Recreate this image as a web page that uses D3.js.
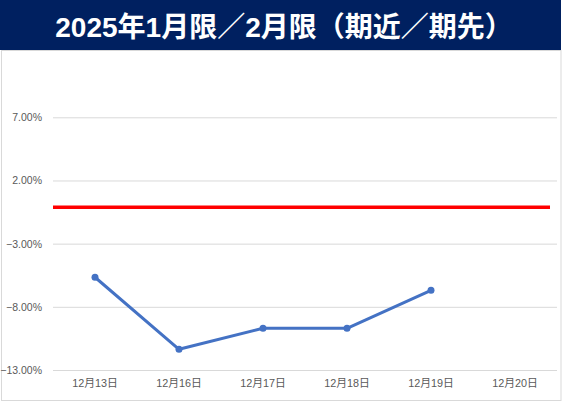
<!DOCTYPE html>
<html>
<head>
<meta charset="utf-8">
<script src="https://cdn.jsdelivr.net/npm/d3@7"></script>
<style>
  html, body { margin: 0; padding: 0; background: #fff; }
  svg { display: block; }
</style>
</head>
<body>
<svg id="chart" width="563" height="403"></svg>
<script>
// Chart data
const titleText = "2025年1月限／2月限（期近／期先）";
const categories = ["12月13日", "12月16日", "12月17日", "12月18日", "12月19日", "12月20日"];
const spreadValues = [-5.66, -11.36, -9.70, -9.70, -6.69, null]; // % (期近／期先)
const referenceLevel = 0; // % baseline drawn in red
const yTicks = [7, 2, -3, -8, -13];
const yDomain = [-13, 7];

const svg = d3.select("#chart");
const W = 563, H = 403;
const margin = { top: 117.3, right: 6, bottom: 33, left: 53 };

// Title banner
svg.append("rect")
  .attr("x", 0).attr("y", 0).attr("width", 561).attr("height", 50)
  .attr("fill", "#002060");
svg.append("text")
  .attr("x", 284).attr("y", 37)
  .attr("text-anchor", "middle")
  .attr("fill", "#ffffff")
  .attr("font-family", "'Liberation Sans', 'Noto Sans CJK JP', sans-serif")
  .attr("font-weight", "bold")
  .attr("font-size", 28)
  .text(titleText);

// Chart frame
svg.append("rect")
  .attr("x", 1.5).attr("y", 50.5).attr("width", 559.5).attr("height", 350)
  .attr("fill", "none").attr("stroke", "#d9d9d9").attr("stroke-width", 1);

const x = d3.scaleBand()
  .domain(categories)
  .range([margin.left, W - margin.right])
  .paddingInner(0).paddingOuter(0);

const y = d3.scaleLinear()
  .domain(yDomain)
  .range([H - margin.bottom, margin.top]);

const fontFamily = "'Liberation Sans', 'Noto Sans CJK JP', sans-serif";

// Horizontal gridlines + y labels
const yAxis = d3.axisLeft(y)
  .tickValues(yTicks)
  .tickSize(-(W - margin.right - margin.left))
  .tickPadding(11)
  .tickFormat(d => d3.format(".2f")(d) + "%");

const gy = svg.append("g")
  .attr("transform", `translate(${margin.left},0)`)
  .call(yAxis);
gy.select(".domain").remove();
gy.selectAll(".tick line").attr("stroke", "#d9d9d9").attr("stroke-width", 1);
gy.selectAll(".tick text")
  .attr("fill", "#595959")
  .attr("font-family", fontFamily)
  .attr("font-size", 10.5);

// Category labels
const xAxis = d3.axisBottom(x).tickSize(0).tickPadding(9);
const gx = svg.append("g")
  .attr("transform", `translate(0,${H - margin.bottom})`)
  .call(xAxis);
gx.select(".domain").remove();
gx.selectAll(".tick text")
  .attr("fill", "#595959")
  .attr("font-family", fontFamily)
  .attr("font-size", 10.8);

// Red baseline
svg.append("line")
  .attr("x1", x.range()[0])
  .attr("x2", x.range()[1] - 7)
  .attr("y1", y(referenceLevel) + 1.5)
  .attr("y2", y(referenceLevel) + 1.5)
  .attr("stroke", "#ff0000")
  .attr("stroke-width", 3.3);

// Spread series
const pts = categories.map((c, i) => ({ c, v: spreadValues[i] })).filter(d => d.v !== null);
const cx = d => x(d.c) + x.bandwidth() / 2;

svg.append("path")
  .datum(pts)
  .attr("fill", "none")
  .attr("stroke", "#4472c4")
  .attr("stroke-width", 3)
  .attr("stroke-linejoin", "round")
  .attr("d", d3.line().x(cx).y(d => y(d.v)));

svg.selectAll("circle.pt")
  .data(pts)
  .join("circle")
  .attr("class", "pt")
  .attr("cx", cx)
  .attr("cy", d => y(d.v))
  .attr("r", 3.5)
  .attr("fill", "#4472c4");
</script>
</body>
</html>
